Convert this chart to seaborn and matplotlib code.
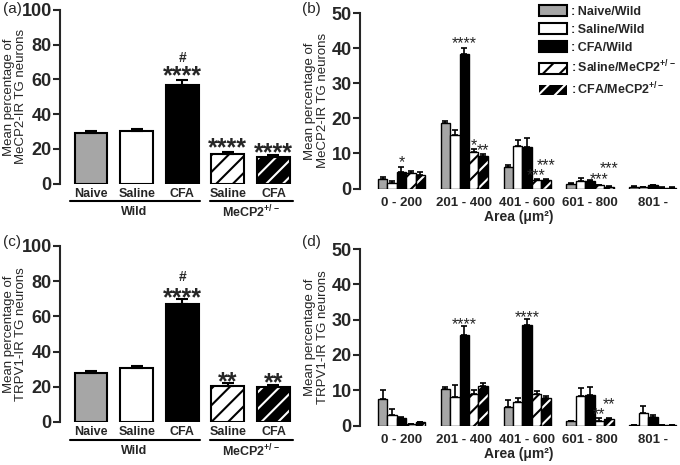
import numpy as np
import pandas as pd
import matplotlib
matplotlib.use("Agg")
import matplotlib.pyplot as plt
import seaborn as sns
from matplotlib.patches import Patch, Rectangle

sns.set_style("ticks")
plt.rcParams["font.family"] = ["Liberation Sans", "DejaVu Sans"]
plt.rcParams["font.weight"] = "bold"
plt.rcParams["mathtext.fontset"] = "custom"
plt.rcParams["mathtext.rm"] = "Liberation Sans"
plt.rcParams["mathtext.bf"] = "Liberation Sans:bold"
plt.rcParams["hatch.linewidth"] = 1.5

# ---- data ----
groups = ["Naive/Wild", "Saline/Wild", "CFA/Wild", "Saline/MeCP2", "CFA/MeCP2"]
bar_labels = ["Naive", "Saline", "CFA", "Saline", "CFA"]
areas = ["0 - 200", "201 - 400", "401 - 600", "601 - 800", "801 -"]
colors = ["#a6a6a6", "white", "black", "white", "black"]

# (a) MeCP2-IR totals
mecp2_mean = [29.4, 30.6, 57.0, 17.1, 15.2]
mecp2_err = [0.9, 0.9, 2.7, 1.3, 1.3]
# (c) TRPV1-IR totals
trpv1_mean = [27.6, 30.5, 66.9, 20.5, 20.1]
trpv1_err = [1.6, 1.5, 2.8, 1.5, 0.7]

# (b) MeCP2-IR by soma area, one list per group (areas in order)
mecp2_area_mean = {
    "Naive/Wild":   [2.6, 18.8, 6.0, 1.2, 0.4],
    "Saline/Wild":  [1.6, 15.4, 12.2, 2.0, 0.3],
    "CFA/Wild":     [4.8, 38.3, 11.9, 2.2, 0.9],
    "Saline/MeCP2": [4.3, 10.4, 2.4, 0.9, 0.2],
    "CFA/MeCP2":    [3.9, 9.2, 2.4, 0.5, 0.2],
}
mecp2_area_err = {
    "Naive/Wild":   [0.7, 0.4, 0.8, 0.3, 0.2],
    "Saline/Wild":  [0.4, 1.4, 1.7, 1.0, 0.1],
    "CFA/Wild":     [1.2, 1.8, 2.4, 0.3, 0.2],
    "Saline/MeCP2": [0.6, 0.8, 0.3, 0.2, 0.1],
    "CFA/MeCP2":    [0.7, 0.7, 0.3, 0.2, 0.1],
}
# (d) TRPV1-IR by soma area
trpv1_area_mean = {
    "Naive/Wild":   [7.6, 10.3, 5.3, 1.2, 0.1],
    "Saline/Wild":  [2.9, 8.1, 6.7, 8.3, 3.5],
    "CFA/Wild":     [2.2, 25.7, 28.6, 8.5, 2.4],
    "Saline/MeCP2": [0.3, 9.0, 9.0, 1.2, 0.1],
    "CFA/MeCP2":    [0.9, 11.2, 7.8, 1.8, 0.2],
}
trpv1_area_err = {
    "Naive/Wild":   [2.4, 0.5, 1.9, 0.2, 0.05],
    "Saline/Wild":  [1.9, 3.3, 1.1, 2.4, 1.9],
    "CFA/Wild":     [0.3, 2.4, 1.7, 2.5, 0.5],
    "Saline/MeCP2": [0.1, 1.0, 0.8, 0.8, 0.05],
    "CFA/MeCP2":    [0.2, 0.7, 0.6, 0.3, 0.05],
}

# significance marks: (bar index, text, y of mark top)
marks_a = [(2, "****", 68.7), (3, "****", 27.1), (4, "****", 24.2)]
hash_a = (2, "#", 76.5)
marks_c = [(2, "****", 76.9), (3, "**", 29.5), (4, "**", 28.6)]
hash_c = (2, "#", 86.6)
# (area index, group index, text, y of mark top)
marks_b = [(0, 2, "*", 9.6), (1, 2, "****", 43.4), (1, 3, "*", 14.5), (1, 4, "**", 12.9),
           (2, 3, "***", 5.8), (2, 4, "***", 8.6), (3, 3, "***", 4.6), (3, 4, "***", 7.9)]
marks_d = [(1, 2, "****", 30.8), (2, 2, "****", 32.7), (3, 3, "**", 5.3), (3, 4, "**", 7.9)]

palette = dict(zip(groups, colors))
W, H = 680, 465


def style_bar(ax, bar, gi, lw):
    # MeCP2+/- bars are striped
    if gi == 3:
        bar.set_hatch("//")
    elif gi == 4:
        bar.set_hatch("//")
        bar.set_edgecolor("white")
        bar.set_linewidth(0)
        ax.add_patch(Rectangle(bar.get_xy(), bar.get_width(), bar.get_height(),
                               fill=False, ec="black", lw=lw, zorder=bar.get_zorder() + 0.1))


def total_panel(ax, means, errs, ylabel, marks, hmark):
    df = pd.DataFrame({"group": groups, "value": means})
    sns.barplot(data=df, x="group", y="value", hue="group", hue_order=groups,
                palette=palette, saturation=1, width=0.72, edgecolor="black",
                linewidth=1.5, errorbar=None, legend=False, ax=ax)
    bars = list(ax.patches)
    for gi, bar in enumerate(bars):
        style_bar(ax, bar, gi, 1.5)
    xs = [b.get_x() + b.get_width() / 2 for b in bars]
    ax.errorbar(xs, means, yerr=[np.zeros(len(errs)), errs], fmt="none", ecolor="black",
                elinewidth=1.5, capsize=4, capthick=1.5, zorder=1)
    for i, t, y in marks:
        ax.text(xs[i], y, t, ha="center", va="top", fontsize=18, fontweight="bold")
    i, t, y = hmark
    ax.text(xs[i], y, t, ha="center", va="top", fontsize=10, fontweight="bold")

    ax.set_xlim(-0.68, 4.45)
    ax.set_ylim(0, 100)
    ax.set_yticks(range(0, 101, 20))
    ax.set_xticks(range(5))
    ax.set_xticklabels(bar_labels, fontsize=9, fontweight="bold")
    ax.tick_params(axis="x", length=0, pad=3)
    ax.tick_params(axis="y", labelsize=13, width=1.5, length=5, pad=1)
    ax.set_xlabel("")
    ax.set_ylabel(ylabel, fontsize=9.5, fontweight="normal", linespacing=1.1)
    ax.yaxis.set_label_coords(-0.139, 0.5)
    for s in ["top", "right", "bottom"]:
        ax.spines[s].set_visible(False)
    ax.spines["left"].set_linewidth(1.5)

    tr = ax.get_xaxis_transform()
    ax.plot([-0.47, 2.4], [-0.1, -0.1], transform=tr, clip_on=False, color="black", lw=1.5)
    ax.plot([2.6, 4.42], [-0.1, -0.1], transform=tr, clip_on=False, color="black", lw=1.5)
    ax.text(0.95, -0.165, "Wild", transform=tr, ha="center", va="center", fontsize=9)
    ax.text(3.5, -0.165, r"MeCP2$^{\mathbf{+/-}}$", transform=tr, ha="center", va="center",
            fontsize=9)


def area_panel(ax, means, errs, ylabel, marks):
    df = pd.DataFrame([(a, g, means[g][k]) for g in groups for k, a in enumerate(areas)],
                      columns=["area", "group", "value"])
    sns.barplot(data=df, x="area", y="value", hue="group", hue_order=groups, order=areas,
                palette=palette, saturation=1, width=0.75, edgecolor="black",
                linewidth=1.0, errorbar=None, legend=False, ax=ax)
    centers = {}
    for gi, (g, cont) in enumerate(zip(groups, ax.containers)):
        bars = list(cont)
        for bar in bars:
            style_bar(ax, bar, gi, 1.0)
        xs = [b.get_x() + b.get_width() / 2 for b in bars]
        for k, x in enumerate(xs):
            centers[(k, gi)] = x
        ax.errorbar(xs, means[g], yerr=[np.zeros(len(areas)), errs[g]], fmt="none",
                    ecolor="black", elinewidth=1.2, capsize=2.2, capthick=1.2, zorder=1)
    for k, gi, t, y in marks:
        ax.text(centers[(k, gi)], y, t, ha="center", va="top", fontsize=11.5,
                fontweight="normal")

    ax.set_xlim(-0.66, 4.4)
    ax.set_ylim(0, 50)
    ax.set_yticks(range(0, 51, 10))
    ax.tick_params(axis="x", length=0, pad=6, labelsize=9.5)
    ax.tick_params(axis="y", labelsize=13, width=1.5, length=5, pad=1)
    for lab in ax.get_xticklabels():
        lab.set_fontweight("bold")
    ax.set_xlabel("Area (\u03bcm\u00b2)", fontsize=10, fontweight="bold", labelpad=1)
    ax.set_ylabel(ylabel, fontsize=9.5, fontweight="normal", linespacing=1.1)
    ax.yaxis.set_label_coords(-0.097, 0.5)
    for s in ["top", "right", "bottom"]:
        ax.spines[s].set_visible(False)
    ax.spines["left"].set_linewidth(1.5)


fig = plt.figure(figsize=(W / 100, H / 100), dpi=100)


def box(l, r, t, b):
    return [l / W, 1 - b / H, (r - l) / W, (b - t) / H]


ax_a = fig.add_axes(box(60, 294, 10, 183.7))
ax_b = fig.add_axes(box(360, 678, 13.3, 188.5))
ax_c = fig.add_axes(box(60, 294, 246, 422))
ax_d = fig.add_axes(box(360, 678, 249, 425.5))

total_panel(ax_a, mecp2_mean, mecp2_err, "Mean percentage of\nMeCP2-IR TG neurons", marks_a, hash_a)
total_panel(ax_c, trpv1_mean, trpv1_err, "Mean percentage of\nTRPV1-IR TG neurons", marks_c, hash_c)
area_panel(ax_b, mecp2_area_mean, mecp2_area_err, "Mean percentage of\nMeCP2-IR TG neurons", marks_b)
area_panel(ax_d, trpv1_area_mean, trpv1_area_err, "Mean percentage of\nTRPV1-IR TG neurons", marks_d)

# legend
handles = [
    Patch(facecolor=colors[0], edgecolor="black", lw=1.5),
    Patch(facecolor=colors[1], edgecolor="black", lw=1.5),
    Patch(facecolor=colors[2], edgecolor="black", lw=1.5),
    Patch(facecolor="white", edgecolor="black", lw=1.5, hatch="//"),
    Patch(facecolor="black", edgecolor="white", lw=0, hatch="//"),
]
sp = "\u2009"
labels = [":" + sp + "Naive/Wild", ":" + sp + "Saline/Wild", ":" + sp + "CFA/Wild",
          ":" + sp + r"Saline/MeCP2$^{\mathbf{+/-}}$", ":" + sp + r"CFA/MeCP2$^{\mathbf{+/-}}$"]
ax_b.legend(handles, labels, loc="upper left", bbox_to_anchor=(539 / W, 1 - 5 / H),
            bbox_transform=fig.transFigure, frameon=False, fontsize=9,
            handlelength=2.25, handleheight=0.95, handletextpad=0.3, labelspacing=0.42,
            borderpad=0, borderaxespad=0)

for t, x, y in [("(a)", 3, 2), ("(b)", 302, 2), ("(c)", 3, 235), ("(d)", 302, 235)]:
    fig.text(x / W, 1 - y / H, t, fontsize=11, fontweight="normal", ha="left", va="top")

fig.savefig("out.png", dpi=100)
